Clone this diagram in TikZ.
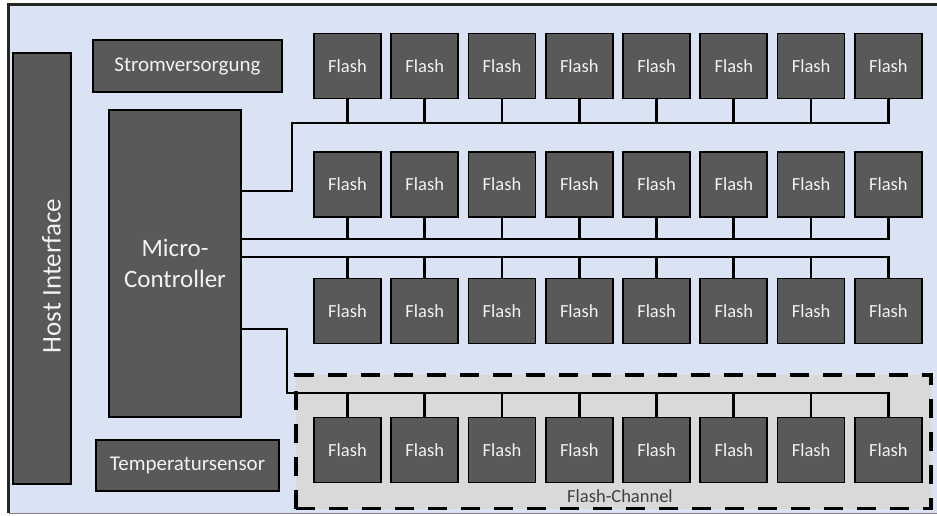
\documentclass[tikz,border=0pt]{standalone}
\usepackage{fontspec}
\setmainfont{Carlito}
\usepackage{tikz}
\usetikzlibrary{positioning}
\definecolor{panelbg}{HTML}{DAE3F3}
\definecolor{chipx}{HTML}{595959}
\definecolor{chanbg}{HTML}{D9D9D9}
\definecolor{framex}{HTML}{262626}
\definecolor{txtx}{HTML}{F2F2F2}
\definecolor{chantxt}{HTML}{404040}
\tikzset{
  box/.style={draw=black,line width=1.8pt,fill=chipx,text=txtx,inner sep=0pt,align=center},
  flash/.style={box,minimum width=67pt,minimum height=65pt,font=\fontsize{18.5}{22}\selectfont},
  bus/.style={line width=2.8pt,black,line cap=rect},
  chan/.style={draw=black,line width=3.5pt,dash pattern=on 19pt off 14pt,fill=chanbg,inner sep=0pt},
  lbl/.style={inner sep=0pt,text=txtx}
}
\begin{document}
\begin{tikzpicture}[x=1pt,y=-1pt]
\useasboundingbox (0,0) rectangle (937,515);
\fill[panelbg] (8,4) rectangle (945,513);
\draw[framex,line width=3pt] (8.5,513) -- (8.5,4.5) -- (945,4.5);
\draw[gray,line width=1.5pt] (8.5,513.5) -- (945,513.5);

\node[chan,minimum width=635pt,minimum height=133.5pt] (chan) at (613.5,441.75) {};
\node[inner sep=0pt,anchor=base,text=chantxt,font=\fontsize{18.5}{22}\selectfont] (chanlbl) at (620,502) {Flash-Channel};

\node[box,minimum width=58pt,minimum height=431pt] (host) at (42,268.5) {};
\node[lbl,rotate=90,font=\fontsize{27}{32}\selectfont] (hostlbl) at (51.5,276) {Host Interface};
\node[box,minimum width=189pt,minimum height=52pt,font=\fontsize{21}{25}\selectfont] (strom) at (187.5,66) {Stromversorgung};
\node[box,minimum width=132pt,minimum height=307pt,font=\fontsize{25}{31}\selectfont] (mc) at (175,263.5) {Micro-\\Controller};
\node[box,minimum width=183pt,minimum height=51pt,font=\fontsize{21}{25}\selectfont] (temp) at (187.5,465.5) {Temperatursensor};

\foreach \r/\y in {1/66,2/184.5,3/311,4/450}
  \foreach \c in {1,...,8}
    \node[flash] (f\r-\c) at ({347.5+77.26*(\c-1)},\y) {Flash};

\coordinate (j1) at (292,191);
\coordinate (k1) at (292,123);
\coordinate (k2) at (292,239);
\coordinate (k3) at (292,257);
\coordinate (j4) at (287,329);
\coordinate (k4) at (287,393);
\draw[bus] (mc.east |- j1) -- (j1) -- (k1) -- (k1 -| f1-8.south);
\draw[bus] (mc.east |- k2) -- (k2 -| f2-8.south);
\draw[bus] (mc.east |- k3) -- (k3 -| f3-8.north);
\draw[bus] (mc.east |- j4) -- (j4) -- (k4) -- (k4 -| f4-8.north);
\foreach \c in {1,...,8} {
  \draw[bus] (f1-\c.south) -- (f1-\c.south |- k1);
  \draw[bus] (f2-\c.south) -- (f2-\c.south |- k2);
  \draw[bus] (f3-\c.north) -- (f3-\c.north |- k3);
  \draw[bus] (f4-\c.north) -- (f4-\c.north |- k4);
}
\end{tikzpicture}
\end{document}
